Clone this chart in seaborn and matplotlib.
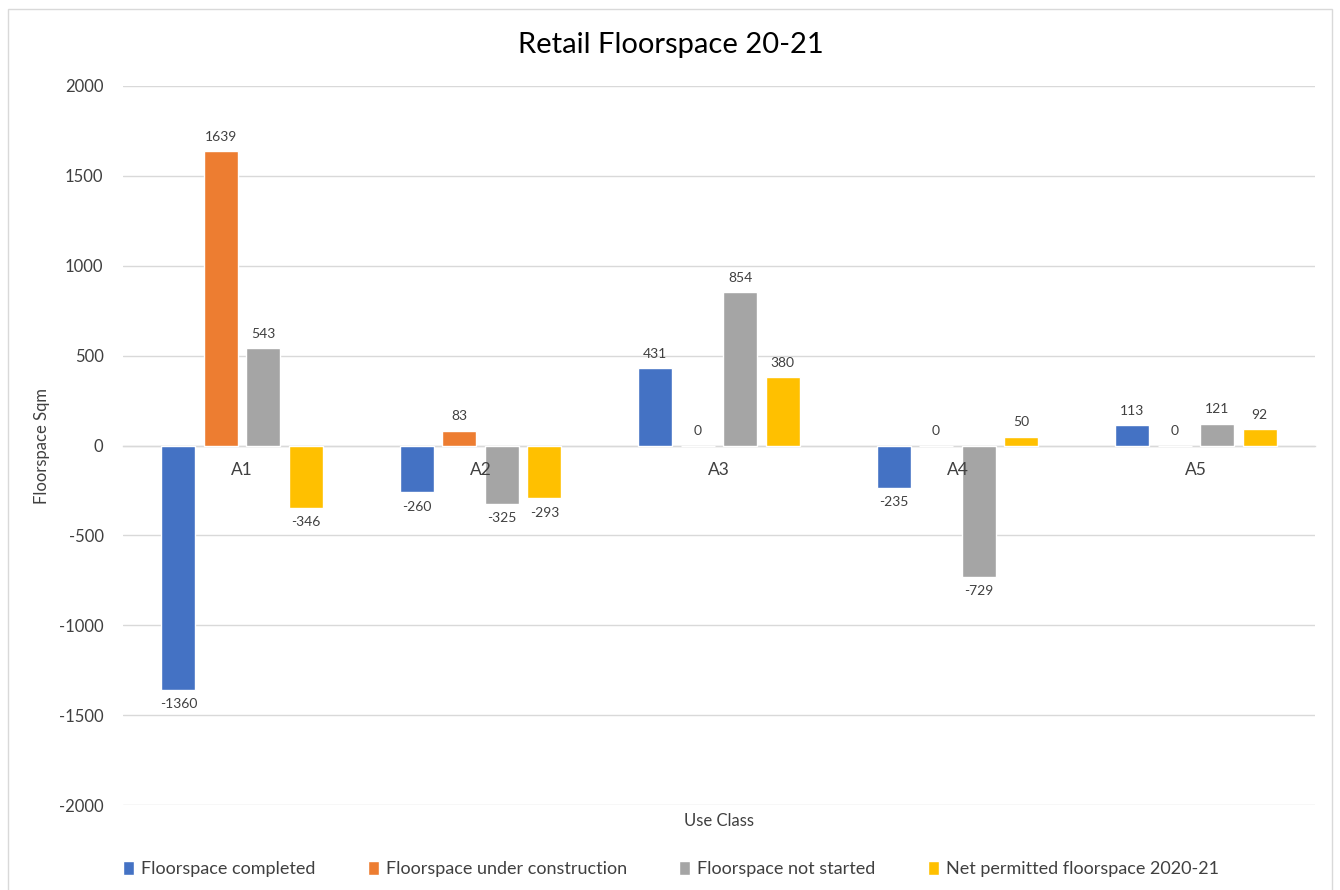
import matplotlib
matplotlib.use("Agg")
import matplotlib.pyplot as plt
import seaborn as sns
import pandas as pd
from matplotlib.patches import Rectangle

categories = ["A1", "A2", "A3", "A4", "A5"]
series = ["Floorspace completed", "Floorspace under construction",
          "Floorspace not started", "Net permitted floorspace 2020-21"]
completed = [-1360, -260, 431, -235, 113]
under_construction = [1639, 83, 0, 0, 0]
not_started = [543, -325, 854, -729, 121]
net_permitted = [-346, -293, 380, 50, 92]
colors = ["#4472C4", "#ED7D31", "#A5A5A5", "#FFC000"]
yticks = [-2000, -1500, -1000, -500, 0, 500, 1000, 1500, 2000]

rows = []
for s, vals in zip(series, [completed, under_construction, not_started, net_permitted]):
    for c, v in zip(categories, vals):
        rows.append({"Use Class": c, "Series": s, "Value": v})
df = pd.DataFrame(rows)

sns.set_theme(style="white")
plt.rcParams["font.family"] = ["Lato", "DejaVu Sans"]

W, H = 1340, 890
left, right, top, bottom = 123, 1315, 86, 805
fig = plt.figure(figsize=(13.4, 8.9), dpi=100)
ax = fig.add_axes([left / W, 1 - bottom / H, (right - left) / W, (bottom - top) / H])

sns.barplot(data=df, x="Use Class", y="Value", hue="Series", hue_order=series,
            palette=colors, width=0.714, gap=0.2, ax=ax, legend=True,
            errorbar=None, saturation=1, zorder=3)

for cont in ax.containers:
    ax.bar_label(cont, fmt="%d", padding=6, fontsize=10, color="#404040")

ax.set_ylim(-2000, 2000)
ax.set_xlim(-0.5, 4.5)
ax.set_yticks(yticks)
ax.set_yticklabels([str(t) for t in yticks], fontsize=12, color="#404040")
ax.yaxis.grid(True, color="#D9D9D9", linewidth=1)
ax.set_axisbelow(True)
ax.yaxis.set_zorder(0.5)
ax.xaxis.set_zorder(4)
for sp in ["left", "right", "top"]:
    ax.spines[sp].set_visible(False)
ax.spines["bottom"].set_position(("data", 0))
ax.spines["bottom"].set_color("#D9D9D9")
ax.spines["bottom"].set_linewidth(1)
ax.spines["bottom"].set_zorder(2)
ax.tick_params(axis="both", length=0)
ax.tick_params(axis="y", pad=14)
ax.tick_params(axis="x", pad=12, labelsize=12.5, labelcolor="#404040")
ax.set_xlabel("")
ax.set_ylabel("")

fig.text(671 / W, 1 - 45 / H, "Retail Floorspace 20-21", ha="center", va="center",
         fontsize=21, color="#000000")
fig.text((left + right) / 2 / W, 1 - 821 / H, "Use Class", ha="center", va="center",
         fontsize=12, color="#404040")
fig.text(42 / W, 1 - (top + bottom) / 2 / H, "Floorspace Sqm", ha="center", va="center",
         rotation=90, fontsize=12, color="#404040")

handles, labels = ax.get_legend_handles_labels()
ax.get_legend().remove()
fig.legend(handles, labels, loc="center", bbox_to_anchor=(671 / W, 1 - 869 / H),
           ncol=4, frameon=False, fontsize=13, handlelength=0.6, handleheight=0.8,
           handletextpad=0.4, columnspacing=2.9, labelcolor="#404040")

fig.patches.append(Rectangle((8 / W, -0.01), 1324 / W, 1 - 9 / H + 0.01,
                             transform=fig.transFigure,
                             fill=False, edgecolor="#D9D9D9", linewidth=1))

fig.savefig("out.png", dpi=100)
